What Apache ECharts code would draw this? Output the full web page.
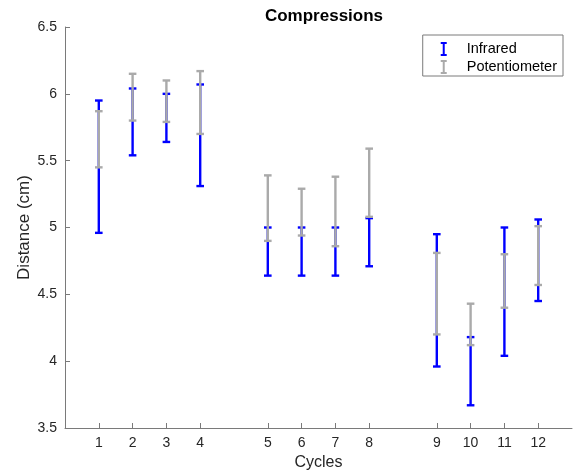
<!DOCTYPE html>
<html>
<head>
<meta charset="utf-8">
<script src="https://cdn.jsdelivr.net/npm/echarts@6/dist/echarts.min.js"></script>
<style>
  html, body { margin: 0; padding: 0; background: #fff; }
  #chart { width: 573px; height: 476px; }
</style>
</head>
<body>
<div id="chart"></div>
<script>
// x positions (gaps between groups of four) and their tick labels
var positions = [1, 2, 3, 4, 6, 7, 8, 9, 11, 12, 13, 14];
var cycleLabels = ['1', '2', '3', '4', '5', '6', '7', '8', '9', '10', '11', '12'];

var infraredHigh = [5.95, 6.04, 6.00, 6.07, 5.00, 5.00, 5.00, 5.07, 4.95, 4.18, 5.00, 5.06];
var infraredLow  = [4.96, 5.54, 5.64, 5.31, 4.64, 4.64, 4.64, 4.71, 3.96, 3.67, 4.04, 4.45];
var potHigh = [5.87, 6.15, 6.10, 6.17, 5.39, 5.29, 5.38, 5.59, 4.81, 4.43, 4.80, 5.01];
var potLow  = [5.45, 5.80, 5.79, 5.70, 4.90, 4.94, 4.86, 5.08, 4.20, 4.12, 4.40, 4.57];

// "I" shaped legend marker
var barIcon = 'path://M0,0 L6,0 L6,2 L4,2 L4,12 L6,12 L6,14 L0,14 L0,12 L2,12 L2,2 L0,2 Z';

function toRows(low, high) {
  var rows = [];
  for (var i = 0; i < positions.length; i++) {
    rows.push([positions[i], low[i], high[i]]);
  }
  return rows;
}

function errorBar(color) {
  return function (params, api) {
    var x = api.value(0);
    var lo = api.coord([x, api.value(1)]);
    var hi = api.coord([x, api.value(2)]);
    var half = 3.8;
    var style = { stroke: color, lineWidth: 2.4 };
    return {
      type: 'group',
      children: [
        { type: 'line', shape: { x1: lo[0], y1: lo[1], x2: hi[0], y2: hi[1] }, style: style },
        { type: 'line', shape: { x1: lo[0] - half, y1: lo[1], x2: lo[0] + half, y2: lo[1] }, style: style },
        { type: 'line', shape: { x1: hi[0] - half, y1: hi[1], x2: hi[0] + half, y2: hi[1] }, style: style }
      ]
    };
  };
}

var chart = echarts.init(document.getElementById('chart'));
var font = 'Liberation Sans, Arial, Helvetica, sans-serif';

chart.setOption({
  animation: false,
  textStyle: { fontFamily: font },
  title: {
    text: 'Compressions',
    left: 319,
    textAlign: 'center',
    top: 3,
    textStyle: { fontSize: 17, fontWeight: 'bold', color: '#000', fontFamily: font }
  },
  legend: {
    orient: 'vertical',
    right: 10,
    top: 35,
    padding: [6, 6, 1, 18],
    itemWidth: 6,
    itemHeight: 14,
    itemGap: 2,
    borderColor: '#7a7a7a',
    borderWidth: 1,
    backgroundColor: '#fff',
    textStyle: { fontSize: 14.5, lineHeight: 16, color: '#000', fontFamily: font, padding: [0, 0, 0, 15] },
    data: [
      { name: 'Infrared', icon: barIcon },
      { name: 'Potentiometer', icon: barIcon }
    ]
  },
  grid: { left: 65, right: 1, top: 27, bottom: 48 },
  xAxis: {
    type: 'value',
    min: 0,
    max: 15,
    name: 'Cycles',
    nameLocation: 'middle',
    nameGap: 27,
    nameMoveOverlap: false,
    nameTextStyle: { fontSize: 16, color: '#262626', fontFamily: font },
    axisLine: { lineStyle: { color: '#7a7a7a', width: 1 } },
    axisTick: { inside: true, length: 5, customValues: positions, lineStyle: { color: '#7a7a7a' } },
    axisLabel: {
      customValues: positions,
      fontSize: 14,
      color: '#262626',
      margin: 8,
      formatter: function (v) {
        var i = positions.indexOf(v);
        return i >= 0 ? cycleLabels[i] : '';
      }
    },
    splitLine: { show: false }
  },
  yAxis: {
    type: 'value',
    min: 3.5,
    max: 6.5,
    interval: 0.5,
    name: 'Distance (cm)',
    nameLocation: 'middle',
    nameGap: 32,
    nameMoveOverlap: false,
    nameTextStyle: { fontSize: 17, color: '#262626', fontFamily: font },
    axisLine: { show: true, lineStyle: { color: '#7a7a7a', width: 1 } },
    axisTick: { show: true, inside: true, length: 5, lineStyle: { color: '#7a7a7a' } },
    axisLabel: { fontSize: 14, color: '#262626', margin: 8 },
    splitLine: { show: false }
  },
  series: [
    {
      name: 'Infrared',
      type: 'custom',
      itemStyle: { color: '#0000ff' },
      renderItem: errorBar('#0000ff'),
      encode: { x: 0, y: [1, 2] },
      data: toRows(infraredLow, infraredHigh),
      z: 2
    },
    {
      name: 'Potentiometer',
      type: 'custom',
      itemStyle: { color: '#aaaaaa' },
      renderItem: errorBar('#aaaaaa'),
      encode: { x: 0, y: [1, 2] },
      data: toRows(potLow, potHigh),
      z: 3
    }
  ]
});
</script>
</body>
</html>
